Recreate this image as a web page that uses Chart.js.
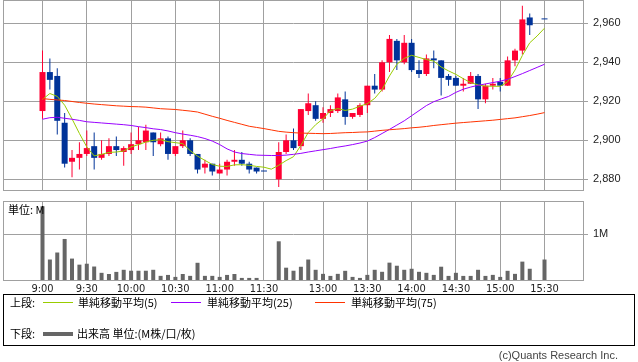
<!DOCTYPE html>
<html lang="ja">
<head>
<meta charset="utf-8">
<script src="https://cdn.jsdelivr.net/npm/chart.js@4.4.1/dist/chart.umd.min.js"></script>
<style>
  html, body { margin: 0; padding: 0; background: #fff; }
  body { width: 638px; height: 362px; position: relative; overflow: hidden; font-family: 'Noto Sans CJK JP', sans-serif; color: #000; }
  canvas { position: absolute; left: 0; }
  #priceChart { top: 0; }
  #volChart { top: 195px; }
  .txt { position: absolute; font-size: 11px; line-height: 13px; white-space: nowrap; }
  .unit { left: 8px; top: 203px; }
  .legend { position: absolute; left: 3px; top: 294px; width: 630px; height: 50px; border: 1px solid #000; }
  .swatch { position: absolute; height: 1px; width: 30px; }
  .credit { position: absolute; right: 20px; top: 349px; font-family: 'Liberation Sans', Arial, sans-serif; font-size: 11px; color: #444; }
</style>
</head>
<body>
<canvas id="priceChart" width="638" height="191"></canvas>
<canvas id="volChart" width="638" height="100"></canvas>
<div class="txt unit">単位: M</div>
<div class="legend">
  <div class="txt" style="left:6px; top:1px;">上段:</div>
  <div class="swatch" style="left:39px; top:7px; background:#99cc00;"></div>
  <div class="txt" style="left:74px; top:1px;">単純移動平均(5)</div>
  <div class="swatch" style="left:167px; top:7px; background:#9900ff;"></div>
  <div class="txt" style="left:203px; top:1px;">単純移動平均(25)</div>
  <div class="swatch" style="left:311px; top:7px; background:#ff3300;"></div>
  <div class="txt" style="left:347px; top:1px;">単純移動平均(75)</div>
  <div class="txt" style="left:6px; top:32px;">下段:</div>
  <div class="swatch" style="left:39px; top:37px; height:4px; background:#666;"></div>
  <div class="txt" style="left:73px; top:32px;">出来高 単位:(M株/口/枚)</div>
</div>
<div class="credit">(c)Quants Research Inc.</div>

<script>
// 5分足スロット (11:30 と 12:30 の間に空きが1つ)
const times = [
  '9:00','9:05','9:10','9:15','9:20','9:25','9:30','9:35','9:40','9:45','9:50','9:55',
  '10:00','10:05','10:10','10:15','10:20','10:25','10:30','10:35','10:40','10:45','10:50','10:55',
  '11:00','11:05','11:10','11:15','11:20','11:25','11:30','',
  '12:30','12:35','12:40','12:45','12:50','12:55',
  '13:00','13:05','13:10','13:15','13:20','13:25','13:30','13:35','13:40','13:45','13:50','13:55',
  '14:00','14:05','14:10','14:15','14:20','14:25','14:30','14:35','14:40','14:45','14:50','14:55',
  '15:00','15:05','15:10','15:15','15:20','15:25','15:30'
];

const opens = [
  2915,2935,2933,2909,2889,2891,2893,2897,2891,2893,2897,2894,
  2895,2898,2899,2904,2898,2901,2893,2897,2900,2893,2886,2888,
  2883,2885,2889,2890,2888,2886,2884,null,
  2880,2894,2900,2897,2915,2918,
  2911,2914,2915,2921,2912,2913,2918,2928,2926,2940,2951,2940,
  2950,2936,2934,2942,2941,2933,2932,2928,2929,2933,2921,2928,
  2930,2928,2941,2946,2963,null,2962
];
const highs = [
  2946,2942,2937,2914,2895,2899,2905,2904,2900,2901,2902,2897,
  2904,2907,2908,2904,2904,2902,2897,2905,2901,2893,2890,2888,
  2888,2890,2895,2894,2889,2886,2884,null,
  2899,2903,2906,2916,2924,2920,
  2917,2918,2924,2925,2914,2919,2928,2934,2941,2954,2952,2954,
  2952,2941,2944,2946,2941,2934,2933,2932,2935,2934,2929,2932,
  2932,2943,2947,2969,2965,null,2962
];
const lows = [
  2911,2926,2903,2886,2881,2885,2892,2885,2890,2892,2892,2887,
  2893,2895,2895,2892,2897,2890,2892,2896,2892,2883,2883,2882,
  2883,2882,2887,2887,2883,2883,2884,null,
  2876,2893,2895,2895,2913,2910,
  2909,2912,2914,2908,2911,2912,2914,2924,2925,2935,2936,2939,
  2935,2932,2933,2937,2923,2928,2928,2925,2929,2916,2919,2926,
  2925,2928,2938,2944,2954,null,2962
];
const closes = [
  2935,2931,2910,2888,2891,2893,2896,2891,2893,2897,2895,2896,
  2898,2900,2905,2899,2901,2893,2897,2900,2893,2885,2888,2884,
  2885,2889,2890,2888,2885,2884,2884,null,
  2894,2900,2896,2916,2919,2911,
  2914,2916,2922,2912,2914,2918,2928,2926,2940,2952,2941,2950,
  2936,2934,2942,2941,2932,2931,2928,2929,2933,2921,2928,2929,
  2928,2941,2946,2962,2959,null,2962
];

// 出来高 (M)
const volumes = [
  1.60,0.46,0.61,0.90,0.48,0.35,0.37,0.31,0.175,0.15,0.195,0.24,
  0.22,0.22,0.22,0.24,0.11,0.13,0.088,0.15,0.11,0.39,0.11,0.11,
  0.088,0.13,0.15,0.066,0.066,0.066,0.012,null,
  0.85,0.285,0.22,0.305,0.46,0.24,
  0.153,0.109,0.153,0.218,0.088,0.066,0.131,0.24,0.197,0.393,0.327,0.24,
  0.262,0.197,0.175,0.131,0.306,0.109,0.175,0.109,0.109,0.24,0.109,0.131,
  0.088,0.218,0.153,0.415,0.262,null,0.46
];

// 移動平均 (チャートから読み取り)
const ma5 = [
  2921,2924,2922.5,2918,2911,2903.5,2896.6,2892,2892.8,2893.8,2894,2894.5,
  2896.6,2897.8,2899.1,2900,2900.3,2899.3,2898.8,2898.3,2894.7,2891.9,2889.7,2887.6,
  2886.7,2886.6,2887.4,2887.5,2887.2,2886.6,2886.2,2885.2,
  2887.2,2889.6,2891.6,2897.4,2904,2908,
  2911,2915.2,2916.3,2915.3,2916,2917.5,2918.8,2921.5,2926,2933,2939,2942,
  2943.6,2942.5,2941.4,2940.6,2937.6,2935.6,2933.8,2931.6,2929.6,2928.4,2927.8,2927.7,
  2927.7,2930,2936,2943.5,2950,2953.5,2957.5
];
const ma25 = [
  2910.8,2911.6,2911.8,2911.3,2910.8,2910.2,2909.5,2909.2,2908.9,2908.6,2908.3,2908.0,
  2907.6,2907.0,2906.5,2905.9,2905.5,2904.8,2903.9,2903.2,2902.6,2901.9,2900.9,2899.6,
  2897.8,2895.6,2894.0,2893.2,2892.8,2892.4,2892.3,2892.2,
  2892.2,2892.4,2892.8,2893.3,2894.0,2894.6,
  2895.2,2895.8,2896.5,2897.1,2897.8,2898.6,2899.6,2901.4,2903.5,2905.6,2907.8,2910.0,
  2912.6,2915.2,2917.8,2919.8,2921.2,2922.5,2924.6,2926.2,2927.3,2928.2,2928.9,2929.6,
  2930.3,2931.3,2932.7,2934.2,2935.8,2937.4,2939.0
];
const ma75 = [
  2921.4,2921.0,2920.7,2920.4,2919.9,2919.4,2919.0,2918.6,2918.3,2918.0,2917.7,2917.5,
  2917.3,2917.2,2917.0,2916.6,2916.2,2916.0,2915.8,2915.4,2915.0,2914.5,2913.4,2912.3,
  2911.3,2910.2,2909.2,2908.2,2907.2,2906.6,2906.0,2905.3,
  2904.6,2904.2,2903.9,2903.7,2903.6,2903.5,
  2903.4,2903.5,2903.7,2903.9,2904.0,2904.2,2904.3,2904.7,2905.1,2905.4,2905.7,2906.0,
  2906.4,2906.7,2907.1,2907.6,2908.0,2908.4,2908.8,2909.1,2909.4,2909.7,2910.0,2910.3,
  2910.7,2911.1,2911.5,2912.1,2912.7,2913.4,2914.2
];

const tickLabels = ['9:00','9:30','10:00','10:30','11:00','11:30','13:00','13:30','14:00','14:30','15:00','15:30'];
const priceTicks = [2880, 2900, 2920, 2940, 2960];
const volTicks = [1];

// ---- 見た目 ----
const GRID = '#a0a0a0';
const UP = '#ff0033';
const DOWN = '#003399';
const X_MIN = -5.35, X_MAX = 73.35;
const tickIdx = tickLabels.map(t => times.indexOf(t));

Chart.defaults.font.family = "'Liberation Sans', Arial, sans-serif";
Chart.defaults.font.size = 11;
Chart.defaults.color = '#222';

const frame = {
  id: 'frame',
  afterDatasetsDraw(chart) {
    const { ctx, chartArea: a } = chart;
    ctx.save();
    ctx.strokeStyle = GRID;
    ctx.lineWidth = 1;
    ctx.strokeRect(a.left + 0.5, a.top + 0.5, a.right - a.left - 1, a.bottom - a.top - 1);
    ctx.restore();
  }
};

const noPad = s => { s.paddingTop = 0; s.paddingBottom = 0; s.paddingLeft = 0; s.paddingRight = 0; };

function xAxis(showLabels) {
  return {
    type: 'linear', min: X_MIN, max: X_MAX, offset: false,
    afterBuildTicks: s => { s.ticks = tickIdx.map(v => ({ value: v })); },
    grid: { color: GRID, drawTicks: false, offset: false },
    border: { display: false },
    ticks: {
      display: showLabels, autoSkip: false, maxRotation: 0, padding: 2,
      font: { family: "'Liberation Sans Narrow', 'DejaVu Sans Condensed', sans-serif", size: 11 },
      callback: (v, i) => tickLabels[i]
    },
    afterFit: s => { s.height = showLabels ? 14 : 0; noPad(s); }
  };
}

const common = {
  responsive: false,
  animation: false,
  events: [],
  plugins: { legend: { display: false }, tooltip: { enabled: false } }
};

// ---- 株価 (ローソク足 + 移動平均) ----
const valid = times.map((t, i) => i).filter(i => opens[i] !== null);
const candleColors = valid.map(i => closes[i] > opens[i] ? UP : DOWN);

function maLine(values, color) {
  return {
    type: 'line', data: values.map((v, i) => ({ x: i, y: v })),
    borderColor: color, borderWidth: 1, pointRadius: 0, tension: 0, fill: false, order: 0
  };
}

new Chart(document.getElementById('priceChart'), {
  type: 'bar',
  data: {
    datasets: [
      maLine(ma75, '#ff3300'),
      maLine(ma25, '#9900ff'),
      maLine(ma5, '#99cc00'),
      {
        data: valid.map(i => ({ x: i, y: [opens[i], closes[i]] })),
        backgroundColor: candleColors, barThickness: 6, minBarLength: 1,
        grouped: false, inflateAmount: 0, borderWidth: 0, order: 1
      },
      {
        data: valid.map(i => ({ x: i, y: [lows[i], highs[i]] })),
        backgroundColor: candleColors, barThickness: 1,
        grouped: false, inflateAmount: 0, borderWidth: 0, order: 2
      }
    ]
  },
  options: {
    ...common,
    layout: { padding: { left: 3, top: 0, right: 0, bottom: 0 } },
    scales: {
      x: xAxis(false),
      y: {
        position: 'right', min: 2874.0, max: 2971.95,
        afterBuildTicks: s => { s.ticks = priceTicks.map(v => ({ value: v })); },
        grid: { color: GRID, tickLength: 4 },
        border: { display: false },
        ticks: { padding: 5, callback: v => v.toLocaleString('en-US') },
        afterFit: s => { s.width = 54; noPad(s); }
      }
    }
  },
  plugins: [frame]
});

// ---- 出来高 ----
new Chart(document.getElementById('volChart'), {
  type: 'bar',
  data: {
    datasets: [{
      data: volumes.map((v, i) => ({ x: i, y: v })).filter(d => d.y !== null),
      backgroundColor: '#666666', barThickness: 4, grouped: false, inflateAmount: 0, borderWidth: 0
    }]
  },
  options: {
    ...common,
    layout: { padding: { left: 3, top: 6, right: 0, bottom: 0 } },
    scales: {
      x: xAxis(true),
      y: {
        position: 'right', min: 0, max: 1.713,
        afterBuildTicks: s => { s.ticks = volTicks.map(v => ({ value: v })); },
        grid: { color: GRID, tickLength: 4 },
        border: { display: false },
        ticks: { padding: 5, callback: v => v + 'M' },
        afterFit: s => { s.width = 54; noPad(s); }
      }
    }
  },
  plugins: [frame]
});
</script>
</body>
</html>
